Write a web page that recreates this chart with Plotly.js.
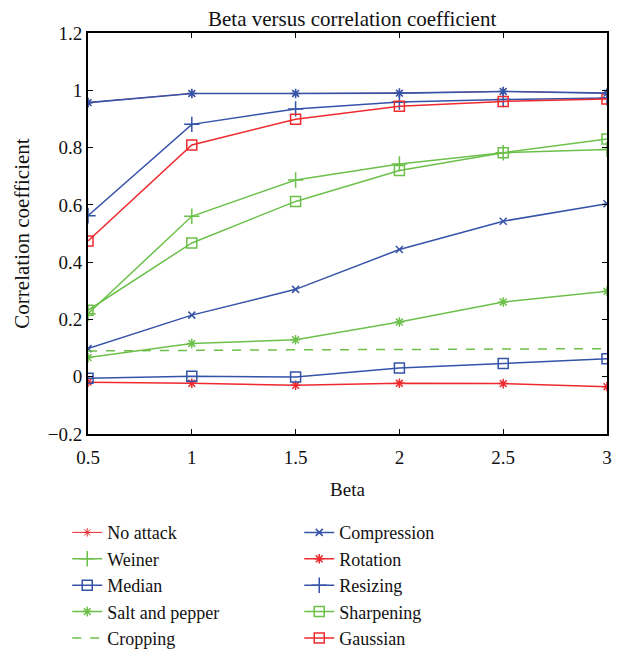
<!DOCTYPE html>
<html>
<head>
<meta charset="utf-8">
<script src="https://cdn.plot.ly/plotly-3.0.1.min.js"></script>
<style>html,body{margin:0;padding:0;background:#fff;}#chart{width:620px;height:651px;}</style>
</head>
<body>
<div id="chart"></div>
<script>
const beta = [0.5, 1, 1.5, 2, 2.5, 3];
const noAttack     = [0.957, 0.989, 0.989, 0.990, 0.996, 0.990];
const compression  = [0.098, 0.215, 0.305, 0.444, 0.543, 0.604];
const weiner       = [0.220, 0.560, 0.687, 0.743, 0.782, 0.793];
const rotation     = [-0.019, -0.023, -0.030, -0.023, -0.024, -0.035];
const median       = [-0.005, 0.002, -0.001, 0.030, 0.046, 0.063];
const resizing     = [0.562, 0.881, 0.935, 0.959, 0.968, 0.973];
const saltPepper   = [0.067, 0.116, 0.129, 0.191, 0.261, 0.298];
const sharpening   = [0.232, 0.467, 0.612, 0.720, 0.782, 0.830];
const cropping     = [0.090, 0.093, 0.094, 0.095, 0.096, 0.098];
const gaussian     = [0.474, 0.809, 0.899, 0.944, 0.961, 0.970];
const xTicks = [0.5, 1, 1.5, 2, 2.5, 3];
const xTickText = ['0.5', '1', '1.5', '2', '2.5', '3'];
const yTicks = [-0.2, 0, 0.2, 0.4, 0.6, 0.8, 1, 1.2];
const yTickText = ['\u22120.2', '0', '0.2', '0.4', '0.6', '0.8', '1', '1.2'];

const RED = '#ee2a2f', BLUE = '#3553a8', GREEN = '#6cc04a';
function tr(name, y, color, symbol, size, dash, showlegend, width) {
  const w = width || 1.5;
  const t = {
    x: beta, y: y, name: name, type: 'scatter',
    mode: symbol ? 'lines+markers' : 'lines',
    line: {color: color, width: w, dash: dash || 'solid'},
    showlegend: showlegend !== false
  };
  if (symbol) t.marker = {symbol: symbol, size: size, color: color, line: {color: color, width: w}};
  return t;
}
const data = [
  tr('No attack', noAttack, RED, 'asterisk-open', 7, null, true, 1),
  tr('Compression', compression, BLUE, 'x-thin-open', 7),
  tr('Weiner', weiner, GREEN, 'cross-thin-open', 11),
  tr('Rotation', rotation, RED, 'asterisk-open', 8),
  tr('Median', median, BLUE, 'square-open', 10),
  tr('Resizing', resizing, BLUE, 'cross-thin-open', 11),
  tr('Salt and pepper', saltPepper, GREEN, 'asterisk-open', 8),
  tr('Sharpening', sharpening, GREEN, 'square-open', 10),
  tr('Cropping', cropping, GREEN, null, 0, 'dash'),
  tr('Gaussian', gaussian, RED, 'square-open', 10),
  tr('No attack', noAttack, BLUE, 'asterisk-open', 8, null, false, 1.6)
];

const FONT = '"Liberation Serif", "Times New Roman", serif';
const layout = {
  width: 620, height: 651,
  margin: {l: 88, r: 13, t: 33, b: 217, autoexpand: false},
  paper_bgcolor: '#fff', plot_bgcolor: '#fff',
  font: {family: FONT, color: '#111', size: 16},
  title: {text: 'Beta versus correlation coefficient', font: {family: FONT, size: 21, color: '#111'},
          x: 0.568, xanchor: 'center', y: 0.971, yanchor: 'middle'},
  xaxis: {
    range: [0.5, 3], tickvals: xTicks, ticktext: xTickText,
    showgrid: false, zeroline: false, showline: true, linecolor: '#000', linewidth: 2,
    mirror: 'ticks', ticks: 'inside', ticklen: 5, tickcolor: '#000', tickwidth: 1,
    ticklabelstandoff: 5,
    tickfont: {family: FONT, size: 19, color: '#111'},
    title: {text: 'Beta', font: {family: FONT, size: 19, color: '#111'}, standoff: 16}
  },
  yaxis: {
    range: [-0.2, 1.2], tickvals: yTicks, ticktext: yTickText,
    showgrid: false, zeroline: false, showline: true, linecolor: '#000', linewidth: 2,
    mirror: 'ticks', ticks: 'inside', ticklen: 5, tickcolor: '#000', tickwidth: 1,
    tickfont: {family: FONT, size: 19, color: '#111'},
    title: {text: 'Correlation coefficient', font: {family: FONT, size: 21, color: '#111'}, standoff: 12}
  },
  showlegend: true,
  legend: {
    orientation: 'h', x: -0.04, xanchor: 'left', y: -0.2, yanchor: 'top',
    entrywidth: 187, entrywidthmode: 'pixels', itemwidth: 30,
    font: {family: FONT, size: 18, color: '#111'},
    bgcolor: 'rgba(0,0,0,0)', traceorder: 'normal'
  }
};
Plotly.newPlot('chart', data, layout, {staticPlot: true, displayModeBar: false});
</script>
</body>
</html>
